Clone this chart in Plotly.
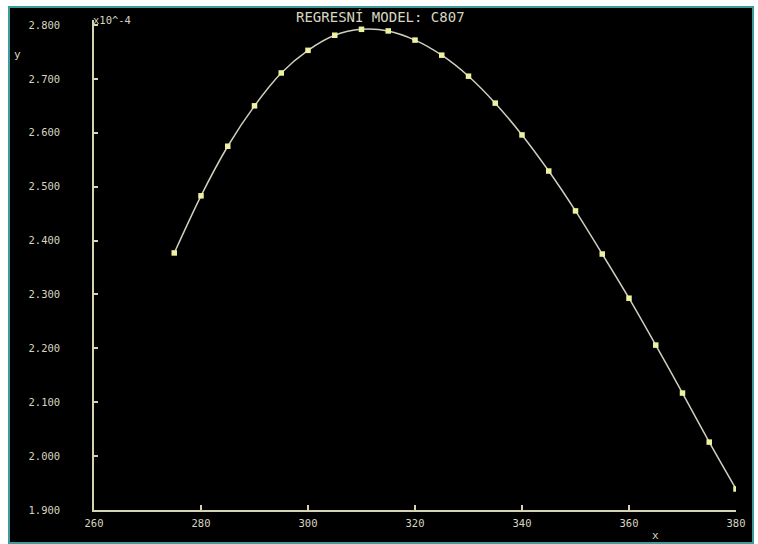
import plotly.graph_objects as go

x_vals = [275, 280, 285, 290, 295, 300, 305, 310, 315, 320, 325,
          330, 335, 340, 345, 350, 355, 360, 365, 370, 375, 380]
y_vals = [2.377, 2.483, 2.575, 2.650, 2.711, 2.753, 2.781, 2.792, 2.789, 2.772, 2.744,
          2.705, 2.655, 2.596, 2.529, 2.455, 2.375, 2.293, 2.206, 2.117, 2.026, 1.939]
x_ticks = [260, 280, 300, 320, 340, 360, 380]
y_ticks = [1.9, 2.0, 2.1, 2.2, 2.3, 2.4, 2.5, 2.6, 2.7, 2.8]

W, H = 758, 544
L, R, T, B = 94, 22, 20, 34
pw, ph = W - L - R, H - T - B

def px(xp):
    return (xp - L) / pw

def py(yp):
    return (H - B - yp) / ph

txt = "#d6d6c0"
axc = "#d4d4b0"
mono = "DejaVu Sans Mono"

fig = go.Figure()
fig.add_trace(go.Scatter(
    x=x_vals, y=y_vals, mode="lines+markers",
    line=dict(color="#cfcfbf", width=1.5, shape="spline", smoothing=0.8),
    marker=dict(symbol="square", size=5.5, color="#eef2a0", line=dict(width=0)),
    showlegend=False, hoverinfo="skip",
))

fig.update_layout(
    width=W, height=H,
    margin=dict(l=L, r=R, t=T, b=B),
    paper_bgcolor="white", plot_bgcolor="black",
    font=dict(family=mono, color=txt, size=11),
    shapes=[dict(type="rect", xref="paper", yref="paper",
                 x0=px(9), x1=px(753), y0=py(543), y1=py(7),
                 fillcolor="black", line=dict(color="#3f9c9c", width=2),
                 layer="below")],
    annotations=[
        dict(text="REGRESNÍ MODEL: C807", xref="paper", yref="paper",
             x=px(380), y=py(17), xanchor="center", yanchor="middle",
             showarrow=False, font=dict(family=mono, size=14, color=txt)),
        dict(text="x10^-4", xref="paper", yref="paper",
             x=px(91), y=py(20), xanchor="left", yanchor="middle",
             showarrow=False, font=dict(family=mono, size=10.5, color=txt)),
        dict(text="y", xref="paper", yref="paper",
             x=px(17), y=py(55), xanchor="center", yanchor="middle",
             showarrow=False, font=dict(family=mono, size=11, color=txt)),
        dict(text="x", xref="paper", yref="paper",
             x=px(655), y=py(535), xanchor="center", yanchor="middle",
             showarrow=False, font=dict(family=mono, size=11, color=txt)),
    ],
)

fig.update_xaxes(
    range=[260, 380], tickvals=x_ticks, ticktext=[str(v) for v in x_ticks],
    showgrid=False, zeroline=False, showline=True, linecolor=axc, linewidth=1.5,
    ticks="inside", ticklen=5, tickcolor=axc, tickwidth=1.5,
    ticklabelstandoff=3,
    tickfont=dict(family=mono, size=10.5, color=txt),
)
fig.update_yaxes(
    range=[1.9, 2.8 + 5 / 53.9 * 0.1], tickvals=y_ticks,
    ticktext=[f"{v:.3f}" for v in y_ticks],
    showgrid=False, zeroline=False, showline=True, linecolor=axc, linewidth=1.5,
    ticks="inside", ticklen=4, tickcolor=axc, tickwidth=1.5,
    ticklabelstandoff=30,
    tickfont=dict(family=mono, size=10.5, color=txt),
)

fig.write_html("out.html")
